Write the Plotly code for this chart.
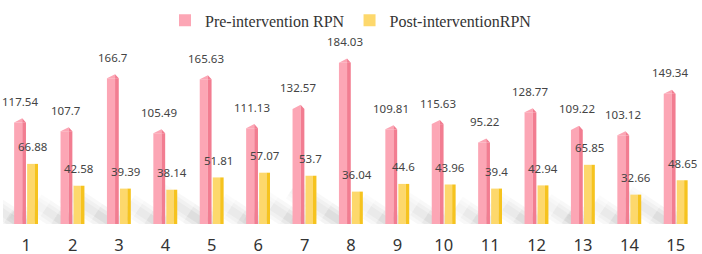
import plotly.graph_objects as go

# ---------------- data ----------------
categories = list(range(1, 16))
tick_labels = [str(c) for c in categories]
pre_rpn = [117.54, 107.7, 166.7, 105.49, 165.63, 111.13, 132.57, 184.03,
           109.81, 115.63, 95.22, 128.77, 109.22, 103.12, 149.34]
post_rpn = [66.88, 42.58, 39.39, 38.14, 51.81, 57.07, 53.7, 36.04,
            44.6, 43.96, 39.4, 42.94, 65.85, 32.66, 48.65]
series_names = ["Pre-intervention RPN", "Post-interventionRPN"]

# ---------------- style ----------------
W, H = 702, 254
M_L, M_R, M_T, M_B = 3, 3, 30, 30
Y_MAX = 212.5
PINK_LIGHT, PINK_DARK = "#fca6b5", "#f27d91"
YEL_LIGHT, YEL_DARK = "#fdd86c", "#f6c31e"
# x offsets (category units) of the prism faces
P_L, P_D, P_R = -0.26, -0.085, -0.005
Y_L, Y_D, Y_R = 0.02, 0.18, 0.255
TIP = 4.5  # height of pointed top, value units

fig = go.Figure()

# pink prism body (two faces)
fig.add_trace(go.Bar(x=categories, y=[v - TIP for v in pre_rpn], offset=P_L, width=P_D - P_L,
                     marker=dict(color=PINK_LIGHT, line=dict(width=0)), name=series_names[0],
                     hoverinfo="skip"))
fig.add_trace(go.Bar(x=categories, y=[v - TIP for v in pre_rpn], offset=P_D, width=P_R - P_D,
                     marker=dict(color=PINK_DARK, line=dict(width=0)), showlegend=False,
                     hoverinfo="skip"))
# yellow prism body
fig.add_trace(go.Bar(x=categories, y=post_rpn, offset=Y_L, width=Y_D - Y_L,
                     marker=dict(color=YEL_LIGHT, line=dict(width=0)), name=series_names[1],
                     hoverinfo="skip"))
fig.add_trace(go.Bar(x=categories, y=post_rpn, offset=Y_D, width=Y_R - Y_D,
                     marker=dict(color=YEL_DARK, line=dict(width=0)), showlegend=False,
                     hoverinfo="skip"))

# pointed tops of pink prisms
lx, ly, rx, ry = [], [], [], []
for c, v in zip(categories, pre_rpn):
    lx += [c + P_L, c + P_D, c + P_D, c + P_L, None]
    ly += [v - TIP, v, v - TIP, v - TIP, None]
    rx += [c + P_D, c + P_D, c + P_R, c + P_D, None]
    ry += [v - TIP, v, v - TIP, v - TIP, None]
fig.add_trace(go.Scatter(x=lx, y=ly, mode="lines", fill="toself", fillcolor=PINK_LIGHT,
                         line=dict(width=0, color=PINK_LIGHT), showlegend=False, hoverinfo="skip"))
fig.add_trace(go.Scatter(x=rx, y=ry, mode="lines", fill="toself", fillcolor=PINK_DARK,
                         line=dict(width=0, color=PINK_DARK), showlegend=False, hoverinfo="skip"))

# soft diagonal shadows behind the prisms
shapes = []
KX, KY = 0.0062, 0.21
segments = [(0.0, 0.35, 1.0), (0.35, 0.7, 0.6), (0.7, 1.0, 0.3)]
widths = [22, 15, 8]
for series, (a, b) in ((pre_rpn, (P_L, P_R)), (post_rpn, (Y_L, Y_R))):
    for c, v in zip(categories, series):
        x0, y0 = c + (a + b) / 2, 0
        x1, y1 = x0 - KX * v, KY * v
        for f0, f1, op in segments:
            for w in widths:
                shapes.append(dict(type="line", xref="x", yref="y", layer="below",
                                   x0=x0 + (x1 - x0) * f0, y0=y0 + (y1 - y0) * f0,
                                   x1=x0 + (x1 - x0) * f1, y1=y0 + (y1 - y0) * f1,
                                   line=dict(color="rgba(0,0,0,0.045)", width=w),
                                   opacity=op))

# value labels
annotations = []
for series, (a, b) in ((pre_rpn, (P_L, P_R)), (post_rpn, (Y_L, Y_R))):
    for c, v in zip(categories, series):
        annotations.append(dict(x=c + (a + b) / 2, y=v, xref="x", yref="y", text=str(v),
                                showarrow=False, yshift=17, yanchor="middle",
                                font=dict(family="Noto Sans", size=11.5, color="#444444")))

fig.update_layout(
    width=W, height=H,
    margin=dict(l=M_L, r=M_R, t=M_T, b=M_B, pad=0),
    paper_bgcolor="white", plot_bgcolor="rgba(0,0,0,0)",
    barmode="overlay",
    showlegend=True,
    legend=dict(orientation="h", x=0.5, xanchor="center",
                y=1 + M_T / (H - M_T - M_B), yanchor="top",
                font=dict(family="Liberation Serif", size=16, color="#333333"),
                bgcolor="rgba(0,0,0,0)", itemwidth=30, traceorder="normal"),
    xaxis=dict(range=[0.5, 15.5], tickmode="array", tickvals=categories, ticktext=tick_labels,
               showgrid=False, zeroline=False, showline=False, ticks="",
               ticklabelstandoff=9, automargin=False,
               tickfont=dict(family="Noto Sans", size=16.5, color="#333333")),
    yaxis=dict(range=[0, Y_MAX], visible=False, showgrid=False, zeroline=False),
    shapes=shapes,
    annotations=annotations,
)

fig.write_html("out.html")
